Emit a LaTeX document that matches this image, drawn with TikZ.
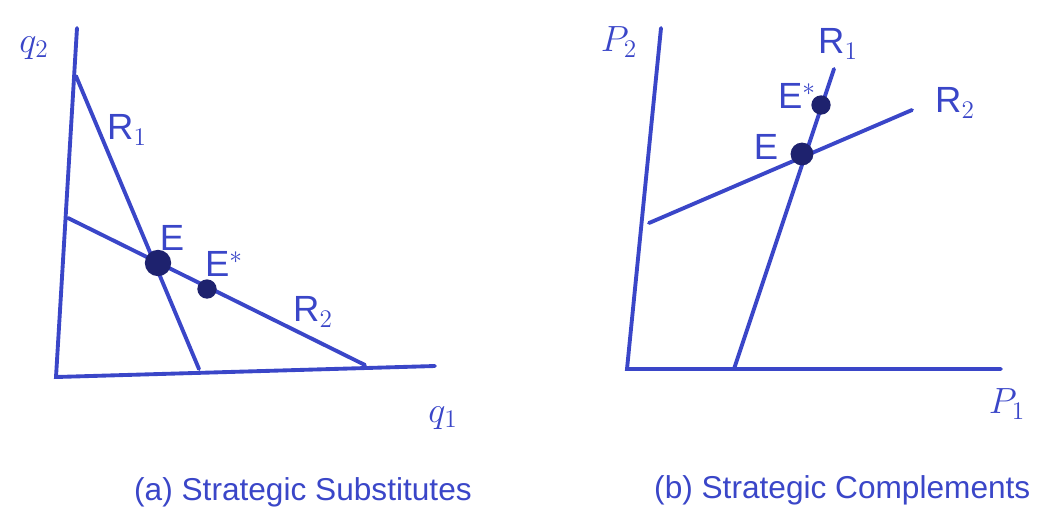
\documentclass[tikz,border=0pt]{standalone}
\usepackage{fontspec}
\setsansfont{Liberation Sans}
\definecolor{ink}{RGB}{58,70,200}
\definecolor{dotink}{RGB}{30,34,110}
\tikzset{
  curve/.style={ink,line width=2.2pt,line cap=round},
  eqpt/.style={circle,fill=dotink,inner sep=0pt,minimum size=#1},
  lab/.style={ink,font=\huge\sffamily},
  caption/.style={ink,font=\fontsize{18}{21}\selectfont\sffamily,anchor=west}
}
\begin{document}
\begin{tikzpicture}[x=0.02cm,y=-0.02cm]
    \useasboundingbox (0,0) rectangle (1047,512);

    % (a) Strategic Substitutes
    \coordinate (qtop) at (77,28);
    \coordinate (qorig) at (56,377);
    \coordinate (qend) at (435,366);
    \draw[curve] (qtop) -- (qorig) -- (qend);
    \node[lab] (qtwo) at (34,48) {$q_2$};
    \node[lab] (qone) at (443,418) {$q_1$};

    \coordinate (rasub) at (76,76);
    \coordinate (rbsub) at (199,369);
    \coordinate (rcsub) at (68,218);
    \coordinate (rdsub) at (365,365);
    \draw[curve] (rasub) -- (rbsub);
    \draw[curve] (rcsub) -- (rdsub);
    \node[lab] (Ronesub) at (127,130) {R$_1$};
    \node[lab] (Rtwosub) at (313,312) {R$_2$};

    \node[eqpt=15pt] (Esub) at (158,263) {};
    \node[eqpt=11pt] (Estarsub) at (207,289) {};
    \node[lab] (Elabsub) at (172,238) {E};
    \node[lab] (Estarlabsub) at (224,264) {E$^{*}$};

    \node[caption] (capa) at (128,492) {(a) Strategic Substitutes};

    % (b) Strategic Complements
    \coordinate (ptop) at (661,28);
    \coordinate (porig) at (627,369);
    \coordinate (pend) at (1001,369);
    \draw[curve] (ptop) -- (porig) -- (pend);
    \node[lab] (ptwo) at (619,42) {$P_2$};
    \node[lab] (pone) at (1007,404) {$P_1$};

    \coordinate (racom) at (734,369);
    \coordinate (rbcom) at (834,69);
    \coordinate (rccom) at (649,223);
    \coordinate (rdcom) at (912,110);
    \draw[curve] (racom) -- (rbcom);
    \draw[curve] (rccom) -- (rdcom);
    \node[lab] (Ronecom) at (838,44) {R$_1$};
    \node[lab] (Rtwocom) at (955,103) {R$_2$};

    \node[eqpt=13pt] (Ecom) at (802,154) {};
    \node[eqpt=11pt] (Estarcom) at (821,105) {};
    \node[lab] (Elabcom) at (766,147) {E};
    \node[lab] (Estarlabcom) at (797,96) {E$^{*}$};

    \node[caption] (capb) at (648,490) {(b) Strategic Complements};
\end{tikzpicture}
\end{document}
